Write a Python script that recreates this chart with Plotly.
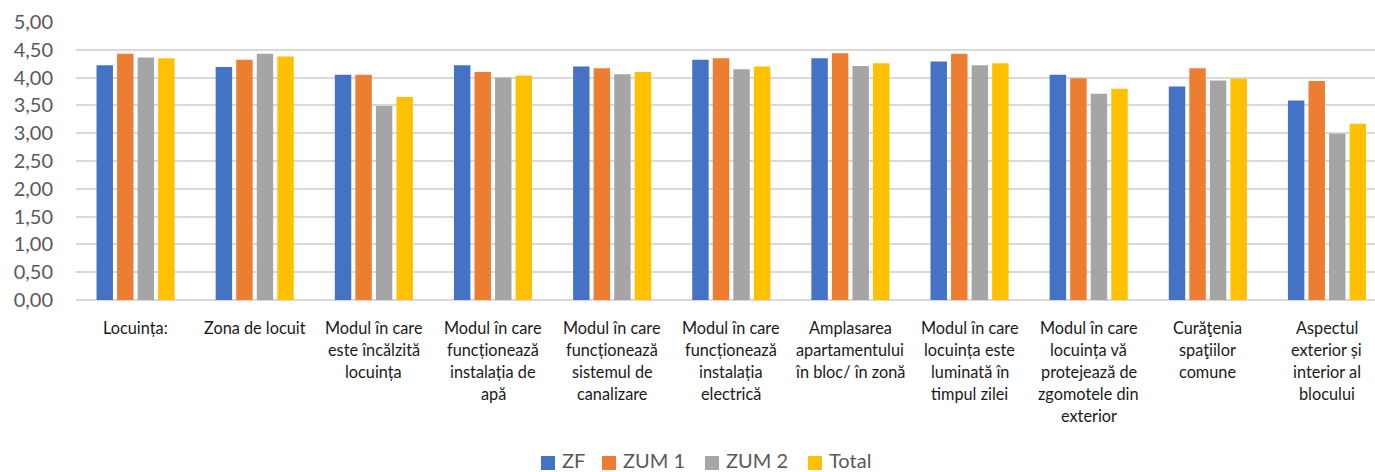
import plotly.graph_objects as go

categories = [
    ["Locuința:"],
    ["Zona de locuit"],
    ["Modul în care", "este încălzită", "locuința"],
    ["Modul în care", "funcționează", "instalația de", "apă"],
    ["Modul în care", "funcționează", "sistemul de", "canalizare"],
    ["Modul în care", "funcționează", "instalația", "electrică"],
    ["Amplasarea", "apartamentului", "în bloc/ în zonă"],
    ["Modul în care", "locuința este", "luminată în", "timpul zilei"],
    ["Modul în care", "locuința vă", "protejează de", "zgomotele din", "exterior"],
    ["Curăţenia", "spaţiilor", "comune"],
    ["Aspectul", "exterior și", "interior al", "blocului"],
]
cat_keys = [" ".join(c) for c in categories]

series_names = ["ZF", "ZUM 1", "ZUM 2", "Total"]
zf    = [4.22, 4.19, 4.05, 4.22, 4.20, 4.32, 4.35, 4.29, 4.05, 3.84, 3.59]
zum1  = [4.43, 4.32, 4.05, 4.10, 4.17, 4.35, 4.44, 4.43, 3.99, 4.17, 3.94]
zum2  = [4.36, 4.43, 3.49, 4.00, 4.06, 4.15, 4.21, 4.22, 3.71, 3.95, 2.99]
total = [4.35, 4.38, 3.65, 4.04, 4.10, 4.20, 4.26, 4.26, 3.80, 3.98, 3.17]
colors = ["#4472C4", "#ED7D31", "#A5A5A5", "#FFC000"]

W, H = 1375, 472
ML, MR, MT, MB = 76, 0, 22, 172
PW, PH = W - ML - MR, H - MT - MB

def px_x(px):
    return (px - ML) / PW

def px_y(py):
    return (H - MB - py) / PH

fig = go.Figure()
for name, vals, col in zip(series_names, [zf, zum1, zum2, total], colors):
    fig.add_trace(go.Bar(x=list(range(len(cat_keys))), y=vals, name=name,
                         marker=dict(color=col, line=dict(width=0)),
                         showlegend=False))

font = "Lato, 'Liberation Sans Narrow', sans-serif"
annotations = []
for i, lines in enumerate(categories):
    for j, line in enumerate(lines):
        annotations.append(dict(x=i, y=0, xref="x", yref="paper", text=line,
                                showarrow=False, xanchor="center", yanchor="middle",
                                yshift=-27 - 22 * j,
                                font=dict(family=font, size=16.3, color="#1a1a1a")))

# manual legend (Excel-style, bottom centred)
legend_sq_left = [541, 602, 705, 808]
shapes = []
for name, col, sx in zip(series_names, colors, legend_sq_left):
    shapes.append(dict(type="rect", xref="paper", yref="paper",
                       x0=px_x(sx), x1=px_x(sx + 14), y0=px_y(470), y1=px_y(456),
                       fillcolor=col, line=dict(width=0)))
    annotations.append(dict(x=px_x(sx + 19), y=px_y(460), xref="paper", yref="paper",
                            text=name, showarrow=False, xanchor="left", yanchor="middle",
                            font=dict(family=font, size=20, color="#595959")))

fig.update_layout(
    width=W, height=H,
    margin=dict(l=ML, r=MR, t=MT, b=MB, autoexpand=False),
    paper_bgcolor="white", plot_bgcolor="white",
    barmode="group", bargap=0.31, bargroupgap=0.2,
    separators=",.",
    font=dict(family=font, color="#595959"),
    annotations=annotations,
    shapes=shapes,
    showlegend=False,
    xaxis=dict(range=[-0.5, 10.403], showticklabels=False, showgrid=False,
               zeroline=False, showline=False, ticks="", automargin=False),
    yaxis=dict(range=[0, 5], dtick=0.5, tickformat=".2f",
               showgrid=True, gridcolor="#D9D9D9", gridwidth=1.5,
               zeroline=True, zerolinecolor="#D9D9D9", zerolinewidth=1.5,
               showline=False, ticks="", ticklabelstandoff=22, automargin=False,
               tickfont=dict(family=font, size=20, color="#595959")),
)

fig.write_html("out.html", config={"displayModeBar": False},
               post_script="document.body.style.margin='0';document.body.style.overflow='hidden';")
